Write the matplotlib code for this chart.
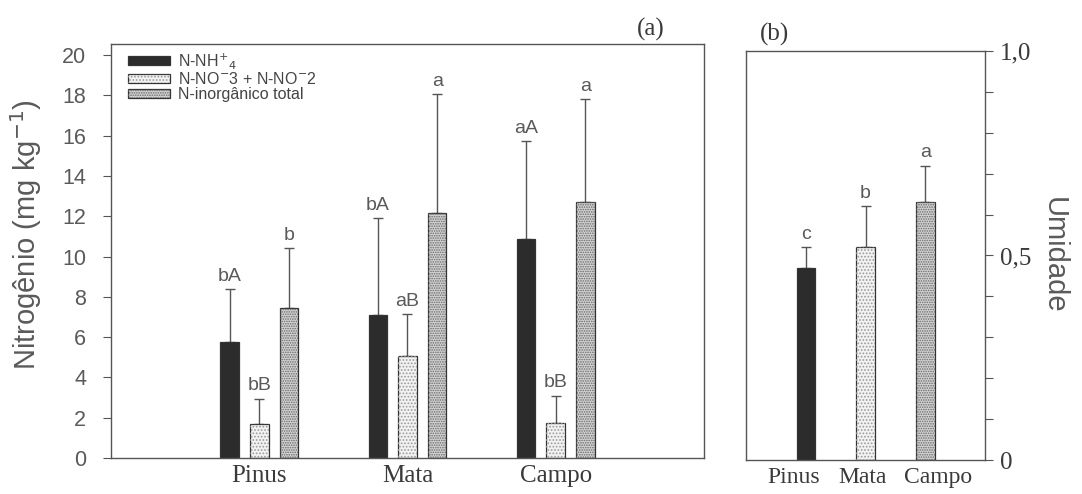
import numpy as np
import matplotlib
matplotlib.use('Agg')
import matplotlib.pyplot as plt
from matplotlib.ticker import MultipleLocator, FixedLocator
from matplotlib.transforms import ScaledTranslation

# data
sites = ['Pinus', 'Mata', 'Campo']

nh4 = [5.75, 7.1, 10.85]
nh4_err = [2.65, 4.8, 4.9]
nh4_letters = ['bA', 'bA', 'aA']

no3 = [1.7, 5.05, 1.75]
no3_err = [1.25, 2.1, 1.35]
no3_letters = ['bB', 'aB', 'bB']

total = [7.45, 12.15, 12.7]
total_err = [2.95, 5.9, 5.1]
total_letters = ['b', 'a', 'a']

umidade = [0.47, 0.52, 0.63]
umidade_err = [0.05, 0.10, 0.09]
umidade_letters = ['c', 'b', 'a']

SANS = 'Liberation Sans'
SERIF = 'Liberation Serif'
TXT_SANS = '#5a5a5a'
TXT_SERIF = '#3a3a3a'
SPINE = '#555555'

# face colour, hatch, hatch colour
STYLE_NH4 = ('#2c2c2c', None, '#2c2c2c')
STYLE_NO3 = ('#f2f2f2', '.....', '#9a9a9a')
STYLE_TOT = ('#d4d4d4', '.......', '#686868')


def hatched_bar(ax, x, h, width, style, err=None):
    face, hatch, hcol = style
    base = ax.bar(x, h, width, color=face, edgecolor='#333333', linewidth=0.9,
                  zorder=2)
    over = None
    if hatch:
        over = ax.bar(x, h, width, fill=False, hatch=hatch, edgecolor=hcol,
                      linewidth=0, zorder=3)
    if err is not None:
        ax.errorbar(x, h, yerr=[np.zeros(len(err)), err], fmt='none',
                    ecolor='#555555', elinewidth=1.0, capsize=3.5,
                    capthick=1.0, zorder=1)
    return base, over


def letters(ax, x, tops, labels):
    for xi, yi, lab in zip(x, tops, labels):
        ax.annotate(lab, (xi, yi), xytext=(0, 3), textcoords='offset points',
                    ha='center', va='bottom', fontsize=14, family=SANS,
                    color=TXT_SANS)


plt.rcParams['hatch.linewidth'] = 0.8
fig = plt.figure(figsize=(10.82, 4.94), dpi=100)

# ---------- panel (a)
ax = fig.add_axes([0.1026, 0.0729, 0.548, 0.838])
x = np.arange(1, len(sites) + 1)
w = 0.125
off = 0.2
b1 = hatched_bar(ax, x - off, nh4, w, STYLE_NH4, nh4_err)
b2 = hatched_bar(ax, x, no3, w, STYLE_NO3, no3_err)
b3 = hatched_bar(ax, x + off, total, w, STYLE_TOT, total_err)
letters(ax, x - off, np.add(nh4, nh4_err), nh4_letters)
letters(ax, x, np.add(no3, no3_err), no3_letters)
letters(ax, x + off, np.add(total, total_err), total_letters)

ax.set_xlim(0, 4)
ax.set_ylim(0, 20.55)
ax.yaxis.set_major_locator(MultipleLocator(2))
ax.set_xticks(x)
ax.set_xticklabels(sites, family=SERIF, fontsize=18, color=TXT_SERIF)
ax.tick_params(axis='x', length=0, pad=5)
ax.tick_params(axis='y', direction='out', length=6, width=0.8,
               color=SPINE, pad=12, labelsize=15.5, labelcolor=TXT_SANS)
for lab in ax.get_yticklabels():
    lab.set_family(SANS)
for s in ax.spines.values():
    s.set_color(SPINE)
    s.set_linewidth(1.0)
ax.set_ylabel('Nitrogênio (mg kg$^{-1}$)', family=SANS, fontsize=21,
              color=TXT_SANS)
ax.yaxis.set_label_coords(-0.113, 0.54)
ax.text(0.91, 1.008, '(a)', transform=ax.transAxes, family=SERIF,
        fontsize=18, color=TXT_SERIF, ha='center', va='bottom')

handles = [b1[0], (b2[0], b2[1]), (b3[0], b3[1])]
labels = ['N-NH$^{+}$$_{4}$', 'N-NO$^{-}$3 + N-NO$^{-}$2', 'N-inorgânico total']
leg = ax.legend(handles, labels, loc='upper left', frameon=False,
                bbox_to_anchor=(0.01, 1.01), prop={'family': SANS, 'size': 11.5},
                handlelength=2.6, handleheight=0.45, labelspacing=0.0,
                handletextpad=0.5, borderaxespad=0.3)
for t in leg.get_texts():
    t.set_color('#444444')

# ---------- panel (b)
bx = fig.add_axes([0.6895, 0.0688, 0.2209, 0.828])
wb = 0.31
styles = [STYLE_NH4, STYLE_NO3, STYLE_TOT]
for i in range(len(sites)):
    hatched_bar(bx, [x[i]], [umidade[i]], wb, styles[i], [umidade_err[i]])
letters(bx, x, np.add(umidade, umidade_err), umidade_letters)

bx.set_xlim(0, 4)
bx.set_ylim(0, 1.0)
bx.set_xticks(x)
bx.set_xticklabels(sites, family=SERIF, fontsize=17, color=TXT_SERIF)
bx.tick_params(axis='x', length=0, pad=5)
# spread the crowded labels a little, as in the original
for lab, dx in zip(bx.get_xticklabels(), [-0.12, -0.03, 0.13]):
    lab.set_transform(lab.get_transform()
                      + ScaledTranslation(dx, 0, fig.dpi_scale_trans))
bx.yaxis.tick_right()
bx.yaxis.set_major_locator(FixedLocator([0, 0.5, 1.0]))
bx.yaxis.set_minor_locator(MultipleLocator(0.1))
bx.set_yticklabels(['0', '0,5', '1,0'], family=SERIF, fontsize=18,
                   color=TXT_SERIF)
bx.tick_params(axis='y', which='both', direction='out', length=6, width=0.8,
               color=SPINE, pad=5)
for s in bx.spines.values():
    s.set_color(SPINE)
    s.set_linewidth(1.0)
bx.yaxis.set_label_position('right')
bx.set_ylabel('Umidade', family=SANS, fontsize=21, color=TXT_SANS,
              rotation=270, labelpad=26)
bx.text(0.12, 1.012, '(b)', transform=bx.transAxes, family=SERIF,
        fontsize=18, color=TXT_SERIF, ha='center', va='bottom')

fig.savefig('out.png', dpi=100)
